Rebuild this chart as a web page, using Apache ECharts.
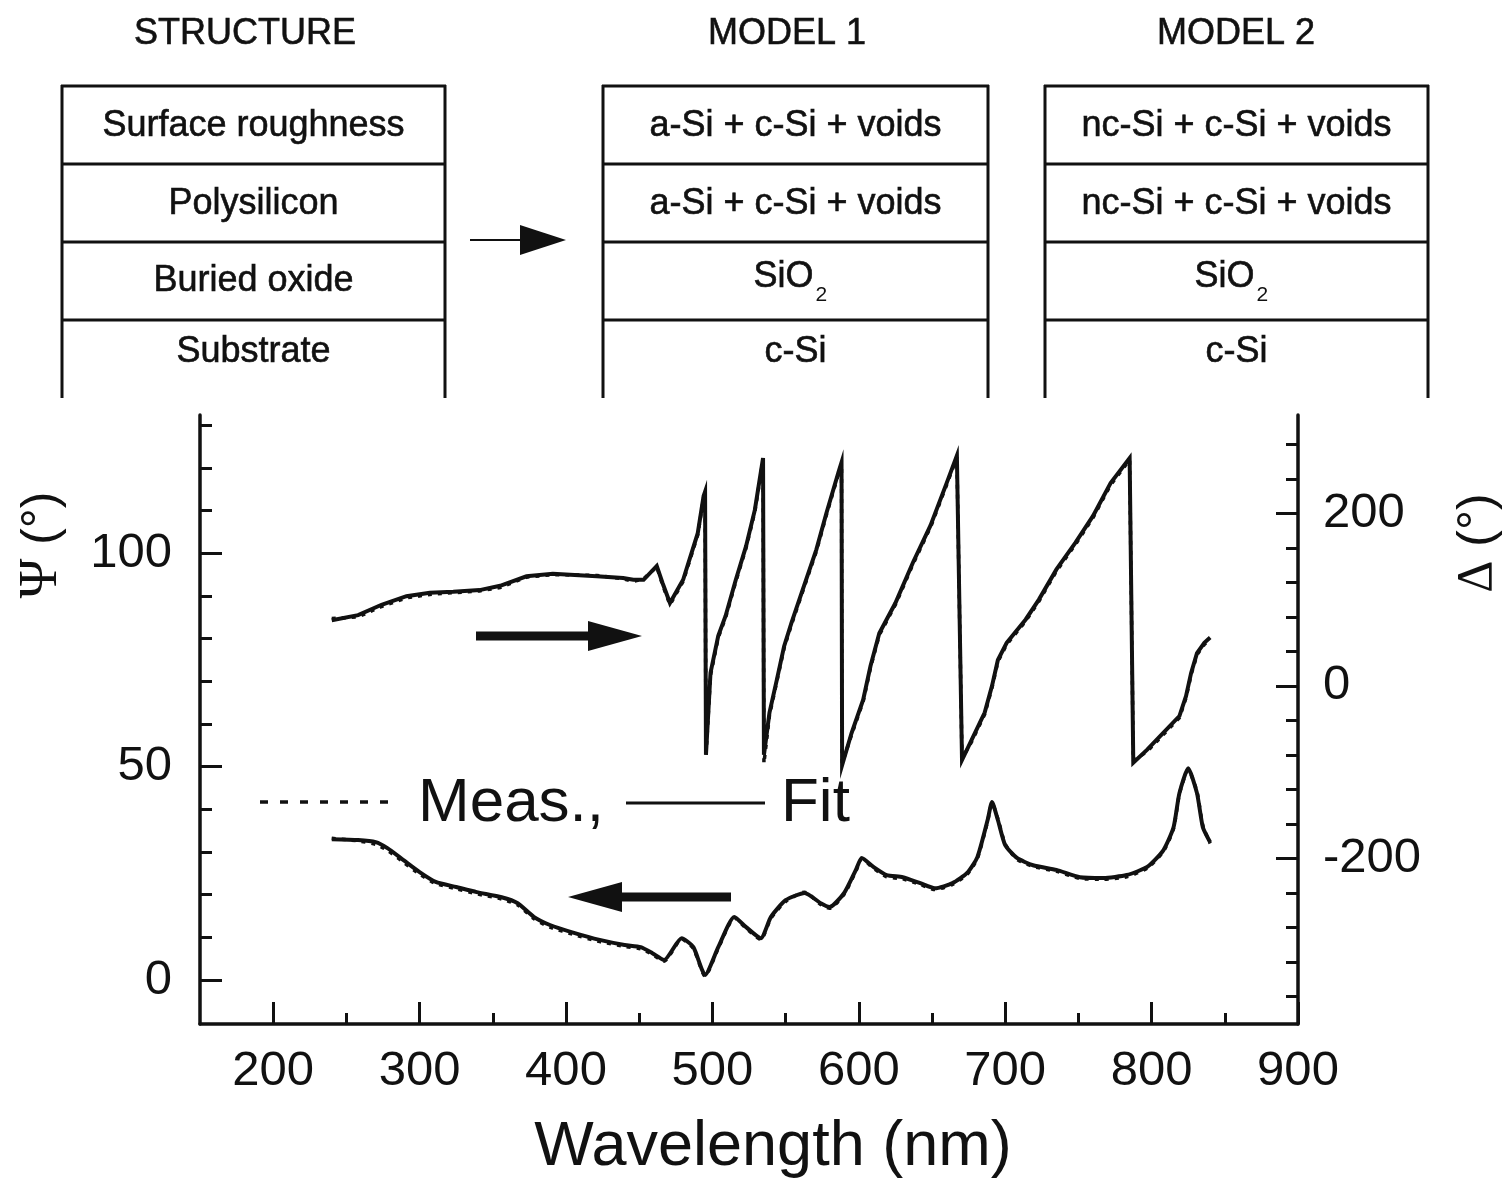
<!DOCTYPE html>
<html>
<head>
<meta charset="utf-8">
<title>Psi / Delta spectra</title>
<script src="https://cdn.jsdelivr.net/npm/echarts@6/dist/echarts.min.js"></script>
<style>
  html, body { margin: 0; padding: 0; background: #fff; }
  #chart { width: 1510px; height: 1180px; }
</style>
</head>
<body>
<div id="chart"></div>
<script>
const FONT = '"Liberation Sans", Arial, sans-serif';
const SERIF = '"Liberation Serif", "Times New Roman", serif';
const INK = '#111';

// Psi (left axis), wavelength in nm
const psiWl = [240, 258, 270, 278, 289, 300, 311, 325, 339, 356, 367, 378, 389, 406, 423,
  440, 451, 459, 467, 479, 487, 495, 504, 515, 523, 533, 540, 550, 563, 574,
  580, 590, 598, 602, 610, 619, 630, 642, 652, 664, 674, 681, 688, 691, 695,
  700, 708, 719, 735, 751, 767, 783, 797, 808, 815, 819, 825, 831, 835, 840];
const psiFit = [33.0, 32.8, 32.3, 30.9, 28.1, 25.3, 23.0, 21.8, 20.6, 19.4, 18.0, 14.8, 12.9, 11.0, 9.4,
  8.2, 7.7, 6.3, 4.7, 9.8, 7.7, 1.2, 7.7, 14.8, 12.4, 9.8, 14.8, 18.7, 20.4, 18.0,
  17.1, 20.4, 25.8, 28.6, 26.5, 24.6, 24.1, 22.7, 21.5, 22.7, 25.1, 28.8, 37.5, 41.7, 37.5,
  31.6, 28.6, 26.9, 25.8, 24.1, 23.9, 24.6, 26.5, 30.4, 35.8, 43.8, 49.6, 43.8, 35.8, 32.3];
const psiMeas = [33.2, 32.6, 31.8, 30.4, 27.6, 24.8, 22.6, 21.4, 20.2, 19.0, 17.6, 14.4, 12.4, 10.6, 9.0,
  7.9, 7.3, 6.0, 4.4, 9.6, 7.4, 0.9, 7.4, 14.6, 12.1, 9.5, 14.5, 18.4, 20.6, 17.7,
  16.8, 20.1, 25.5, 28.4, 26.2, 24.2, 23.7, 22.4, 21.2, 22.4, 24.8, 28.5, 37.2, 41.5, 37.8,
  31.9, 28.3, 26.6, 25.5, 23.8, 23.6, 24.2, 26.2, 30.1, 35.5, 43.6, 49.3, 44.1, 36.2, 32.0];

// Delta (right axis)
const deltaWl = [240, 258, 274, 291, 307, 323, 341, 355, 373, 391, 421, 439, 446, 453, 462,
  466, 471, 480, 490, 494, 495, 495.6, 498.7, 504, 509, 516, 523, 529, 534.6, 535.2,
  539, 544, 549, 554, 561, 571, 578, 586, 588.2, 588.6, 595, 603, 608, 614, 625,
  637, 649, 660, 667, 670.5, 677, 686, 691, 695, 701, 714, 723, 735, 748, 760,
  772, 785, 787.5, 797, 806, 819, 823.5, 827, 831, 836, 840];
const deltaFit = [76, 82, 94, 104, 108, 109, 111, 116, 127, 130, 127, 125, 123, 123, 139,
  119, 96, 123, 177, 220, 225, -80, 15, 58, 81, 123, 162, 204, 264, -80,
  -31, 7, 46, 73, 108, 158, 201, 247, 259, -92, -55, -16, 23, 61, 96,
  143, 186, 235, 267, -86, -63, -31, 0, 30, 50, 77, 100, 135, 166, 197,
  235, 264, -89, -74, -58, -35, -12, 15, 38, 50, 56];
const deltaMeas = [78, 80, 92, 102, 106, 108, 110, 114, 126, 129, 128, 124, 121, 124, 138,
  117, 94, 121, 175, 218, 223, -82, 12, 56, 79, 121, 160, 202, 262, -90,
  -34, 5, 44, 71, 106, 156, 199, 245, 257, -90, -57, -18, 21, 59, 94,
  141, 184, 233, 265, -84, -65, -33, -2, 28, 48, 75, 98, 133, 164, 195,
  233, 262, -87, -76, -60, -37, -14, 13, 36, 48, 54];

// tick labels
const xTicks = [200, 300, 400, 500, 600, 700, 800, 900];
const xMinorTicks = [250, 350, 450, 550, 650, 750, 850];
const psiTicks = [0, 50, 100];
const psiMinorTicks = [10, 20, 30, 40, 60, 70, 80, 90, 110, 120, 130];
const deltaTicks = [-200, 0, 200];
const deltaMinorTicks = [-360, -320, -280, -240, -160, -120, -80, -40, 40, 80, 120, 160, 240, 280];

// layer stack diagram above the plot
const columnTitles = ['STRUCTURE', 'MODEL 1', 'MODEL 2'];
const structureRows = ['Surface roughness', 'Polysilicon', 'Buried oxide', 'Substrate'];
const model1Rows = ['a-Si + c-Si + voids', 'a-Si + c-Si + voids', 'SiO2', 'c-Si'];
const model2Rows = ['nc-Si + c-Si + voids', 'nc-Si + c-Si + voids', 'SiO2', 'c-Si'];

const zip = (xs, ys) => xs.map((x, i) => [x, ys[i]]);

function seg(x1, y1, x2, y2, w) {
  return { type: 'line', silent: true, shape: { x1, y1, x2, y2 },
    style: { stroke: INK, lineWidth: w, lineCap: 'butt' } };
}
function txt(text, x, y, size, align, bold) {
  const style = { text, font: `${size}px ${FONT}`, fill: INK,
    align: align || 'center', verticalAlign: 'middle',
    textAlign: align || 'center', textVerticalAlign: 'middle' };
  if (bold) { style.stroke = INK; style.lineWidth = bold; }
  return { type: 'text', silent: true, x, y, style };
}

const graphics = [];
const boxes = [
  { x0: 62, x1: 445, rows: structureRows },
  { x0: 603, x1: 988, rows: model1Rows },
  { x0: 1045, x1: 1428, rows: model2Rows }
];
const titleX = [245, 787, 1236];
const rowLines = [86, 164, 242, 320];
const rowY = [126, 204, 281, 352];
boxes.forEach((b, i) => {
  graphics.push(txt(columnTitles[i], titleX[i], 34, 36, 'center', 0.6));
  graphics.push(seg(b.x0, 85, b.x0, 398, 3));
  graphics.push(seg(b.x1, 85, b.x1, 398, 3));
  rowLines.forEach(y => graphics.push(seg(b.x0 - 1, y, b.x1 + 1, y, 3)));
  const cx = (b.x0 + b.x1) / 2;
  b.rows.forEach((r, j) => {
    if (r === 'SiO2') {
      graphics.push(txt('SiO', cx + 18, rowY[j] - 4, 36, 'right', 0.6));
      graphics.push(txt('2', cx + 20, rowY[j] + 14, 21, 'left'));
    } else {
      graphics.push(txt(r, cx, rowY[j], 36, 'center', 0.6));
    }
  });
});
// arrow between structure and model 1
graphics.push(seg(470, 240, 524, 240, 2));
graphics.push({ type: 'polygon', silent: true, shape: { points: [[520, 225], [566, 240], [520, 255]] }, style: { fill: INK } });

// direction arrows inside the plot
graphics.push(seg(476, 636, 596, 636, 9));
graphics.push({ type: 'polygon', silent: true, shape: { points: [[588, 621], [642, 636], [588, 651]] }, style: { fill: INK } });
graphics.push(seg(614, 897, 731, 897, 9));
graphics.push({ type: 'polygon', silent: true, shape: { points: [[622, 882], [568, 897], [622, 912]] }, style: { fill: INK } });

// legend drawn by hand
graphics.push({ type: 'line', silent: true, shape: { x1: 260, y1: 802, x2: 392, y2: 802 },
  style: { stroke: INK, lineWidth: 3.5, lineDash: [8, 12] } });
graphics.push(txt('Meas.,', 418, 804, 62, 'left'));
graphics.push(seg(626, 803, 765, 803, 3));
graphics.push(txt('Fit', 781, 804, 62, 'left'));

// axis names
graphics.push({ type: 'text', silent: true, x: 42, y: 545, rotation: Math.PI / 2,
  style: { text: '{g|Ψ} (°)', font: `50px ${FONT}`, fill: INK,
    align: 'center', verticalAlign: 'middle', textAlign: 'center', textVerticalAlign: 'middle',
    rich: { g: { font: `54px ${SERIF}`, fill: INK } } } });
graphics.push({ type: 'text', silent: true, x: 1478, y: 543, rotation: Math.PI / 2,
  style: { text: '{g|Δ} (°)', font: `50px ${FONT}`, fill: INK,
    align: 'center', verticalAlign: 'middle', textAlign: 'center', textVerticalAlign: 'middle',
    rich: { g: { font: `50px ${SERIF}`, fill: INK } } } });
graphics.push(txt('Wavelength (nm)', 773, 1148, 63));

const tickStyle = { color: INK, width: 3 };
function valueAxis(extra) {
  return Object.assign({
    type: 'value',
    axisLine: { show: false, onZero: false, lineStyle: { color: INK, width: 3.5 } },
    axisLabel: { show: false },
    splitLine: { show: false }
  }, extra);
}

const chart = echarts.init(document.getElementById('chart'), null, { renderer: 'canvas' });
chart.setOption({
  animation: false,
  backgroundColor: '#fff',
  grid: { left: 200, right: 212, top: 415, bottom: 156, containLabel: false, outerBoundsMode: 'none' },
  xAxis: [
    valueAxis({ min: 150, max: 900, position: 'bottom',
      axisLine: { show: true, onZero: false, lineStyle: { color: INK, width: 3.5 } },
      axisTick: { show: true, inside: true, length: 22, customValues: xTicks, lineStyle: tickStyle },
      axisLabel: { show: true, customValues: xTicks, margin: 23, color: INK, fontSize: 49, fontFamily: FONT } }),
    valueAxis({ min: 150, max: 900, position: 'bottom',
      axisTick: { show: true, inside: true, length: 11, customValues: xMinorTicks, lineStyle: tickStyle } })
  ],
  yAxis: [
    valueAxis({ min: -10.3, max: 132.4, position: 'left',
      axisLine: { show: true, onZero: false, lineStyle: { color: INK, width: 3.5 } },
      axisTick: { show: true, inside: true, length: 22, customValues: psiTicks, lineStyle: tickStyle },
      axisLabel: { show: true, customValues: psiTicks, margin: 28, color: INK, fontSize: 49, fontFamily: FONT } }),
    valueAxis({ min: -10.3, max: 132.4, position: 'left',
      axisTick: { show: true, inside: true, length: 12, customValues: psiMinorTicks, lineStyle: tickStyle } }),
    valueAxis({ min: -392, max: 314, position: 'right',
      axisLine: { show: true, onZero: false, lineStyle: { color: INK, width: 3.5 } },
      axisTick: { show: true, inside: true, length: 22, customValues: deltaTicks, lineStyle: tickStyle },
      axisLabel: { show: true, customValues: deltaTicks, margin: 25, color: INK, fontSize: 49, fontFamily: FONT } }),
    valueAxis({ min: -392, max: 314, position: 'right',
      axisTick: { show: true, inside: true, length: 12, customValues: deltaMinorTicks, lineStyle: tickStyle } })
  ],
  series: [
    { name: 'Psi meas', type: 'line', xAxisIndex: 0, yAxisIndex: 0, data: zip(psiWl, psiMeas),
      showSymbol: false, smooth: 0.2, lineStyle: { color: INK, width: 3.5, type: [4, 6] } },
    { name: 'Delta meas', type: 'line', xAxisIndex: 0, yAxisIndex: 2, data: zip(deltaWl, deltaMeas),
      showSymbol: false, lineStyle: { color: INK, width: 3.5, type: [4, 6] } },
    { name: 'Psi fit', type: 'line', xAxisIndex: 0, yAxisIndex: 0, data: zip(psiWl, psiFit),
      showSymbol: false, smooth: 0.2, lineStyle: { color: INK, width: 4 } },
    { name: 'Delta fit', type: 'line', xAxisIndex: 0, yAxisIndex: 2, data: zip(deltaWl, deltaFit),
      showSymbol: false, lineStyle: { color: INK, width: 4, join: 'miter' } }
  ],
  graphic: graphics
});
</script>
</body>
</html>
